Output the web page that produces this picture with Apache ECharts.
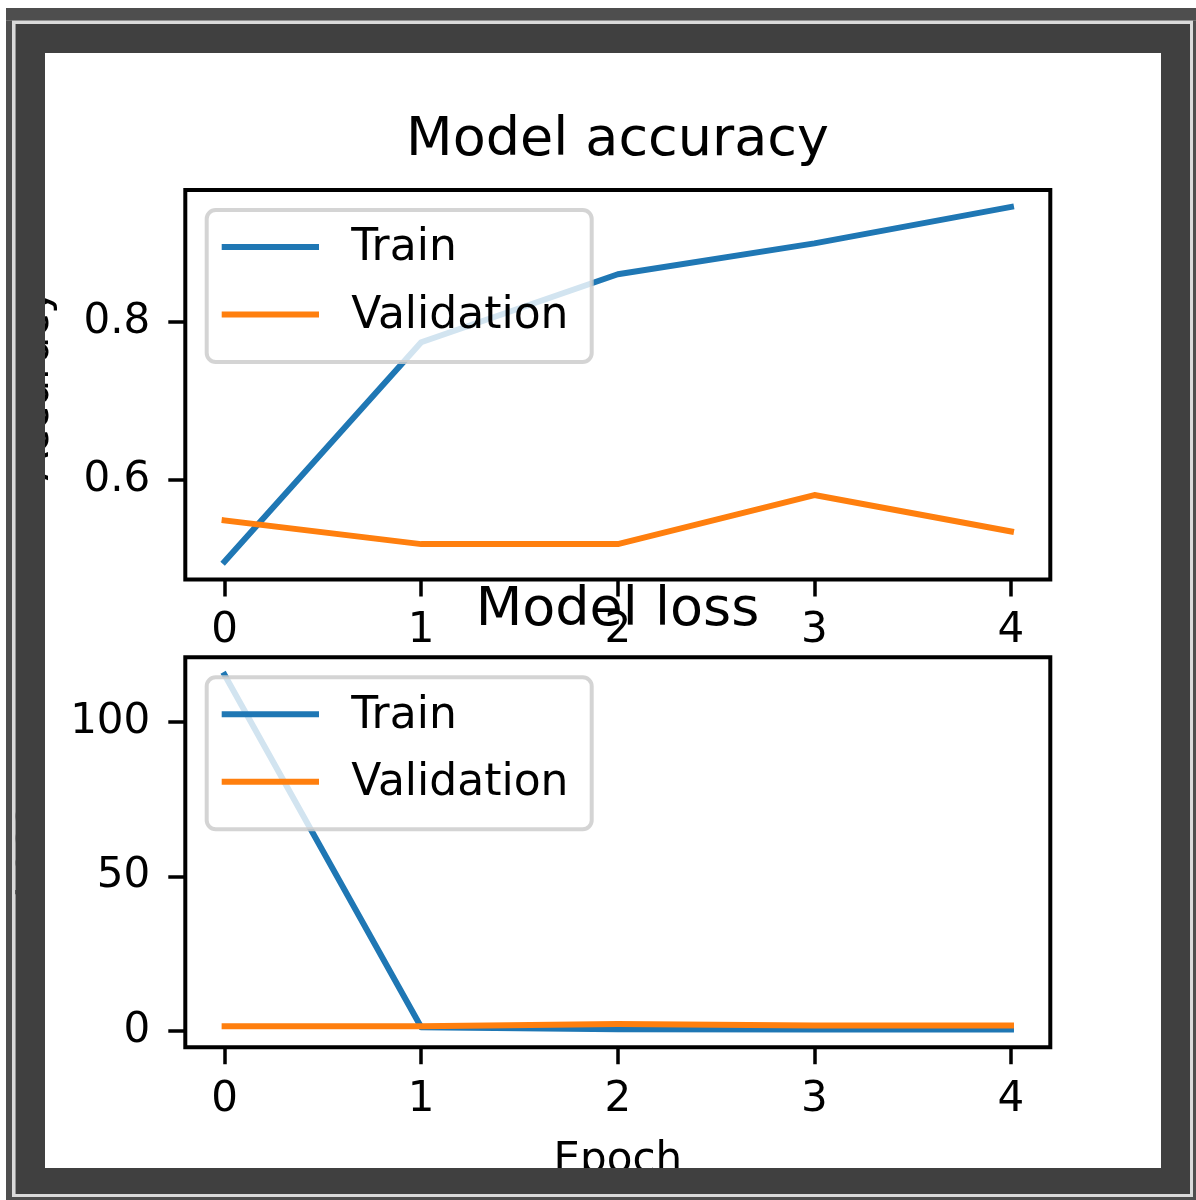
<!DOCTYPE html>
<html><head><meta charset="utf-8">
<script src="https://cdn.jsdelivr.net/npm/echarts@6/dist/echarts.min.js"></script>
<style>html,body{margin:0;padding:0;background:#fff}#c{width:1196px;height:1200px}</style>
</head><body><div id="c"></div>
<script>
// ---- data ----
const epochs = [0, 1, 2, 3, 4];
const seriesNames = ['Train', 'Validation'];
const trainAcc = [0.497, 0.774, 0.860, 0.899, 0.945];
const valAcc = [0.549, 0.519, 0.519, 0.581, 0.535];
const trainLoss = [115.1, 1.2, 0.55, 0.5, 0.46];
const valLoss = [1.5, 1.5, 2.3, 1.8, 1.8];
const xTicks = [0, 1, 2, 3, 4];
const accTicks = [0.6, 0.8];
const lossTicks = [0, 50, 100];
const titles = ['Model accuracy', 'Model loss'];
const yNames = ['Accuracy', 'Loss'];
const xName = 'Epoch';

// ---- layout ----
const FONT = 'DejaVu Sans';
const BLUE = '#1f77b4', ORANGE = '#ff7f0e';
const grids = [
  { left: 185.3, top: 190, width: 865, height: 389.5 },
  { left: 185.3, top: 657.3, width: 865, height: 390 }
];
const yRanges = [[0.4743, 0.9664], [-5.27, 120.8]];
const yTickSets = [accTicks, lossTicks];
const xLabelMargins = [31, 32];

const chart = echarts.init(document.getElementById('c'), null, { renderer: 'canvas' });

function mkX(i) {
  const ax = {
    type: 'value', gridIndex: i, min: -0.2, max: 4.2,
    axisLine: { show: false, onZero: false },
    axisTick: { show: true, length: 17, customValues: xTicks, lineStyle: { color: '#000', width: 3.5 } },
    axisLabel: { customValues: xTicks, fontSize: 42, lineHeight: 42, fontFamily: FONT, color: '#000', margin: xLabelMargins[i] },
    splitLine: { show: false }
  };
  if (i === 1) {
    ax.name = xName; ax.nameLocation = 'middle'; ax.nameGap = 93;
    ax.nameTextStyle = { fontSize: 42, lineHeight: 42, fontFamily: FONT, color: '#000' };
  }
  return ax;
}
function mkY(i) {
  return {
    type: 'value', gridIndex: i, min: yRanges[i][0], max: yRanges[i][1],
    axisLine: { show: false, onZero: false },
    axisTick: { show: true, length: 17, customValues: yTickSets[i], lineStyle: { color: '#000', width: 3.5 } },
    axisLabel: { customValues: yTickSets[i], fontSize: 42, lineHeight: 42, fontFamily: FONT, color: '#000', margin: 35 },
    splitLine: { show: false },
    name: yNames[i], nameLocation: 'middle', nameRotate: 90, nameGap: i === 0 ? 127 : 136,
    nameTextStyle: { fontSize: 42, lineHeight: 42, fontFamily: FONT, color: '#000' }
  };
}
function mkLine(name, vals, gi, color) {
  return {
    type: 'line', name: name, xAxisIndex: gi, yAxisIndex: gi,
    data: epochs.map((e, k) => [e, vals[k]]),
    showSymbol: false, symbol: 'none', color: color,
    lineStyle: { width: 6, color: color, cap: 'square', join: 'round' },
    emphasis: { disabled: true }, z: 2
  };
}

// legend boxes (graphic)
function legend(gi) {
  const g = grids[gi];
  const bx = g.left + 21.4, by = g.top + 20;
  const rows = [by + 37, by + 104.5];
  const cols = [BLUE, ORANGE];
  const els = [{
    type: 'rect', z: 50,
    shape: { x: bx, y: by, width: 385, height: 152, r: 9 },
    style: { fill: 'rgba(255,255,255,0.8)', stroke: 'rgba(204,204,204,0.85)', lineWidth: 4 }
  }];
  seriesNames.forEach((n, k) => {
    els.push({ type: 'line', z: 51, shape: { x1: bx + 15, y1: rows[k], x2: bx + 112.3, y2: rows[k] },
      style: { stroke: cols[k], lineWidth: 6 } });
    els.push({ type: 'text', z: 51, x: bx + 144.5, y: rows[k] + 2,
      style: { text: n, fontSize: 44, fontFamily: FONT, fill: '#000', textVerticalAlign: 'middle', textAlign: 'left' } });
  });
  return els;
}

// picture frame
function ring(o, inn, color) {
  return [
    { type: 'rect', z: 100, shape: { x: o[0], y: o[1], width: o[2] - o[0], height: inn[1] - o[1] }, style: { fill: color } },
    { type: 'rect', z: 100, shape: { x: o[0], y: inn[3], width: o[2] - o[0], height: o[3] - inn[3] }, style: { fill: color } },
    { type: 'rect', z: 100, shape: { x: o[0], y: inn[1], width: inn[0] - o[0], height: inn[3] - inn[1] }, style: { fill: color } },
    { type: 'rect', z: 100, shape: { x: inn[2], y: inn[1], width: o[2] - inn[2], height: inn[3] - inn[1] }, style: { fill: color } }
  ];
}
const frame = [].concat(
  ring([6, 8, 1196, 1200], [12, 20.7, 1193, 1197], '#4e4e4e'),
  ring([12, 20.7, 1193, 1197], [15.5, 24, 1190, 1194], '#dadada'),
  ring([15.5, 24, 1190, 1194], [45, 53, 1161, 1168], '#404040')
);

chart.setOption({
  animation: false,
  backgroundColor: '#fff',
  title: [
    { text: titles[0], left: 617.5, top: 114 },
    { text: titles[1], left: 617.5, top: 584 }
  ].map(t => Object.assign(t, { textAlign: 'center', padding: 0,
      textStyle: { fontSize: 54, lineHeight: 54, fontWeight: 'normal', fontFamily: FONT, color: '#000' } })),
  grid: grids.map(g => Object.assign({ show: true, borderColor: '#000', borderWidth: 4, backgroundColor: 'transparent',
      containLabel: false, outerBoundsMode: 'none' }, g)),
  xAxis: [mkX(0), mkX(1)],
  yAxis: [mkY(0), mkY(1)],
  series: [
    mkLine(seriesNames[0], trainAcc, 0, BLUE),
    mkLine(seriesNames[1], valAcc, 0, ORANGE),
    mkLine(seriesNames[0], trainLoss, 1, BLUE),
    mkLine(seriesNames[1], valLoss, 1, ORANGE)
  ],
  graphic: { elements: [].concat(legend(0), legend(1), frame) }
});
</script>
</body></html>
